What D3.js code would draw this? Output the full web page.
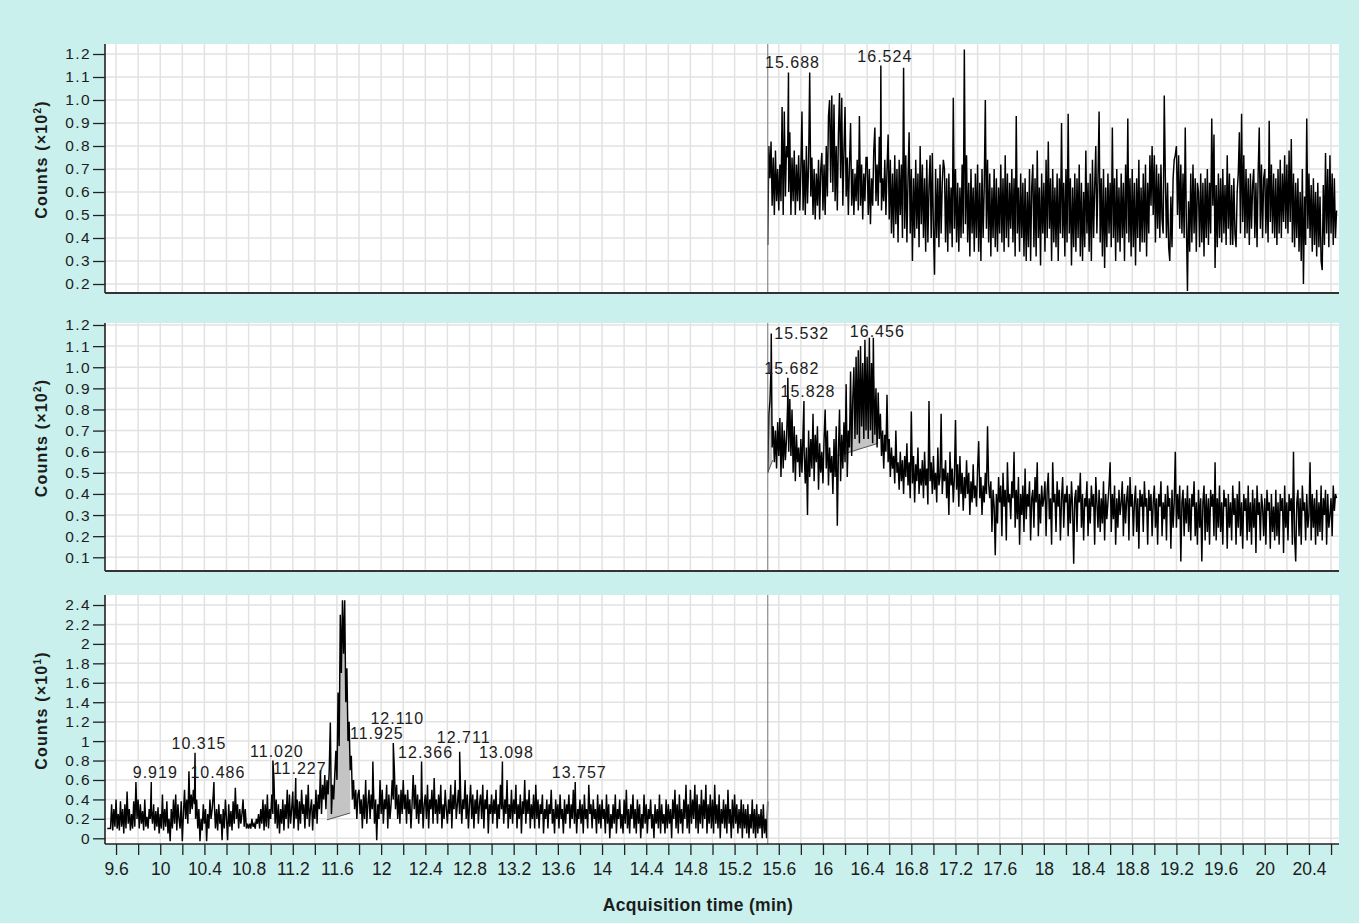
<!DOCTYPE html>
<html>
<head>
<meta charset="utf-8">
<script src="https://cdn.jsdelivr.net/npm/d3@7"></script>
<style>
  html, body { margin: 0; padding: 0; background: #c9f0ec; }
  svg { display: block; }
  text { font-family: "Liberation Sans", Arial, Helvetica, sans-serif; fill: #1c1c1c; }
  .ytick text { font-size: 15.5px; letter-spacing: 1.4px; }
  .xtick text { font-size: 17.5px; }
  .peak { font-size: 16px; letter-spacing: 1px; }
  .ytitle { font-size: 16px; font-weight: bold; letter-spacing: 1.2px; }
  .xtitle { font-size: 17.5px; font-weight: bold; letter-spacing: 0.3px; }
</style>
</head>
<body>
<svg id="chart" width="1359" height="923"></svg>
<script>
// ---- acquisition grid ----
const sampleStep = 0.01;          // min between scans

// ---- trace 1 (Counts ×10²), values in counts, scans from 15.50 min ----
const trace1Start = 15.50;
const trace1 = [
  37, 80, 66, 82, 54, 75, 50, 78, 56, 70,
  52, 72, 56, 97, 50, 95, 58, 80, 75, 60,
  86, 50, 75, 56, 78, 50, 72, 56, 76, 52,
  70, 95, 52, 74, 50, 80, 55, 72, 112, 58,
  75, 50, 70, 48, 68, 54, 74, 48, 70, 77,
  52, 72, 50, 80, 58, 93, 100, 64, 102, 60,
  98, 56, 80, 52, 85, 103, 66, 101, 54, 78,
  97, 58, 75, 50, 72, 90, 54, 70, 50, 68,
  56, 74, 52, 93, 54, 72, 48, 68, 56, 75,
  75, 50, 70, 46, 66, 54, 78, 88, 56, 72,
  54, 84, 64, 52, 66, 56, 74, 50, 70, 85,
  48, 74, 42, 68, 40, 76, 46, 70, 38, 74,
  50, 72, 40, 114, 44, 76, 38, 66, 86, 42,
  70, 30, 66, 40, 74, 44, 68, 36, 80, 46,
  72, 40, 66, 34, 74, 38, 62, 76, 40, 77,
  44, 24, 70, 40, 66, 36, 72, 42, 64, 74,
  70, 38, 66, 34, 68, 42, 62, 36, 101, 44,
  70, 38, 64, 34, 62, 40, 72, 42, 122, 46,
  76, 38, 64, 32, 70, 42, 62, 34, 68, 40,
  72, 34, 64, 30, 70, 40, 62, 100, 44, 74,
  38, 68, 32, 62, 40, 70, 36, 66, 34, 62,
  42, 72, 38, 66, 34, 76, 40, 68, 36, 64,
  44, 70, 38, 66, 32, 93, 42, 62, 34, 68,
  40, 64, 32, 66, 30, 60, 36, 70, 30, 62,
  72, 36, 66, 32, 78, 40, 62, 28, 68, 42,
  64, 34, 74, 40, 82, 44, 66, 30, 70, 38,
  62, 36, 68, 30, 66, 42, 90, 40, 64, 32,
  70, 38, 94, 42, 66, 28, 62, 36, 68, 34,
  66, 40, 72, 32, 64, 30, 60, 36, 78, 42,
  64, 34, 68, 30, 74, 40, 62, 80, 42, 66,
  95, 38, 66, 32, 70, 27, 62, 36, 68, 42,
  64, 36, 88, 40, 66, 30, 70, 38, 62, 34,
  68, 40, 64, 30, 72, 42, 92, 38, 66, 32,
  70, 36, 64, 28, 66, 40, 74, 34, 62, 38,
  68, 38, 72, 32, 64, 42, 76, 54, 80, 50,
  76, 38, 72, 44, 68, 40, 72, 48, 42, 102,
  66, 40, 64, 36, 30, 58, 36, 66, 74, 76,
  80, 50, 76, 44, 72, 42, 68, 40, 88, 47,
  17, 56, 34, 68, 38, 72, 42, 66, 34, 64,
  60, 36, 68, 38, 64, 32, 66, 40, 70, 37,
  64, 42, 92, 54, 85, 27, 63, 36, 68, 40,
  66, 38, 70, 42, 63, 37, 76, 44, 68, 37,
  63, 37, 66, 42, 36, 60, 68, 86, 42, 94,
  47, 76, 40, 70, 42, 66, 37, 68, 44, 63,
  70, 40, 64, 36, 68, 88, 44, 72, 40, 66,
  70, 42, 66, 38, 91, 47, 72, 42, 68, 40,
  66, 37, 70, 42, 74, 40, 68, 47, 76, 44,
  72, 42, 78, 47, 83, 38, 68, 36, 64, 40,
  66, 34, 60, 30, 70, 20, 58, 37, 92, 44,
  68, 40, 63, 34, 66, 37, 60, 32, 64, 36,
  58, 30, 26, 63, 37, 77, 42, 70, 36, 76,
  42, 68, 37, 66, 40, 52
];
const peaks1 = [[15.688, 112], [16.524, 115]];

// ---- trace 2 (Counts ×10²), values in counts, scans from 15.50 min ----
const trace2Start = 15.50;
const trace2 = [
  50, 78, 84, 100, 62, 72, 55, 70, 52, 74,
  58, 76, 48, 74, 52, 70, 56, 66, 82, 60,
  85, 58, 80, 50, 72, 46, 68, 55, 62, 48,
  66, 50, 70, 60, 45, 62, 30, 70, 48, 66,
  52, 78, 46, 68, 55, 72, 42, 64, 50, 60,
  45, 66, 80, 52, 70, 44, 62, 50, 58, 40,
  66, 48, 72, 25, 60, 80, 46, 68, 52, 74,
  55, 92, 48, 70, 62, 98, 58, 85, 100, 66,
  105, 68, 108, 64, 110, 72, 102, 66, 113, 70,
  105, 66, 114, 70, 102, 64, 96, 68, 90, 62,
  88, 66, 78, 58, 70, 52, 68, 60, 87, 55,
  66, 48, 62, 52, 58, 45, 70, 50, 55, 42,
  60, 46, 56, 40, 58, 48, 64, 44, 55, 38,
  79, 45, 58, 36, 54, 46, 62, 40, 52, 44,
  56, 38, 60, 44, 52, 35, 84, 46, 55, 40,
  58, 42, 50, 36, 62, 44, 48, 78, 40, 52,
  46, 56, 38, 50, 30, 60, 44, 52, 36, 48,
  75, 42, 54, 34, 58, 40, 50, 32, 48, 38,
  56, 40, 50, 30, 46, 36, 54, 38, 44, 34,
  52, 65, 38, 48, 30, 44, 36, 50, 40, 72,
  45, 38, 46, 22, 42, 34, 11, 40, 26, 48,
  36, 44, 20, 50, 34, 42, 18, 55, 36, 40,
  28, 46, 38, 60, 24, 42, 28, 48, 16, 40,
  30, 44, 22, 52, 28, 40, 34, 46, 18, 38,
  42, 24, 48, 36, 55, 20, 40, 26, 44, 34,
  38, 46, 20, 42, 50, 28, 38, 16, 55, 36,
  40, 22, 46, 34, 42, 18, 38, 48, 24, 40,
  36, 44, 20, 40, 26, 46, 34, 7, 38, 42,
  22, 44, 36, 50, 24, 40, 18, 38, 34, 46,
  20, 38, 26, 44, 34, 40, 16, 48, 36, 24,
  42, 22, 38, 26, 46, 18, 40, 28, 36, 44,
  55, 22, 40, 28, 44, 16, 38, 24, 42, 30,
  36, 46, 20, 40, 26, 38, 44, 18, 48, 34,
  40, 20, 36, 44, 22, 38, 14, 42, 34, 40,
  22, 46, 34, 38, 16, 42, 32, 40, 20, 36,
  44, 24, 38, 16, 40, 34, 46, 20, 36, 28,
  40, 18, 44, 34, 38, 14, 42, 24, 36, 60,
  24, 40, 28, 44, 8, 36, 42, 20, 38, 26,
  44, 22, 38, 18, 40, 34, 46, 20, 36, 16,
  42, 24, 38, 8, 36, 44, 18, 40, 22, 38,
  16, 42, 34, 40, 20, 55, 18, 38, 24, 44,
  22, 36, 16, 42, 34, 38, 14, 40, 24, 36,
  18, 44, 30, 38, 16, 40, 24, 46, 20, 36,
  14, 40, 32, 38, 18, 44, 22, 36, 16, 42,
  24, 38, 12, 44, 30, 36, 18, 40, 34, 20,
  38, 16, 42, 32, 36, 14, 40, 22, 34, 18,
  42, 20, 36, 16, 40, 32, 38, 12, 44, 24,
  36, 18, 40, 32, 38, 16, 60, 20, 8, 36,
  42, 20, 38, 16, 44, 32, 36, 18, 40, 24,
  30, 55, 18, 40, 24, 38, 16, 42, 20, 36,
  22, 44, 18, 38, 30, 42, 16, 40, 24, 30,
  38, 20, 44, 32, 40, 38
];
const peaks2 = [[15.532, 116], [15.682, 95], [15.828, 84], [16.456, 114]];
// integrated areas: [start min, start baseline, end min, end baseline]
const areas2 = [[15.50, 50, 15.545, 56], [16.13, 58, 16.50, 64]];

// ---- trace 3 (Counts ×10¹), values in tenths of a count, scans from 9.52 min ----
const trace3Start = 9.52;
const trace3 = [
  10, 10, 10, 10, 35, 8, 30, 12,
  40, 10, 25, 8, 38, 12, 30, 5, 35, 10,
  48, 15, 30, 8, 25, 10, 38, 12, 58, 20,
  40, 10, 35, 15, 28, 8, 40, 12, 22, 10,
  30, 20, 30, 15, 35, 8, 28, 12, 32, 5,
  25, 10, 45, 8, 30, 12, 38, 5, 20, -3,
  30, 10, 40, 15, 45, 8, 35, 20, 10, 38,
  -3, 25, 50, 20, 40, 15, 69, 25, 45, 30,
  50, 35, 20, 40, 10, 30, -3, 20, 8, 35,
  15, 30, -3, 25, 10, 40, 20, 30, 45, 35,
  10, 30, 8, 35, 15, 25, -2, 30, 10, 40,
  20, -2, 35, 12, 28, 8, 38, 15, 52, 20,
  35, 10, 30, 15, 25, 40, 12, 30, 10, 15,
  10, 15, 10, 20, 12, 15, 10, 20, 15, 25,
  10, 30, 15, 40, 8, 35, 12, 45, 10, 30,
  20, 45, 25, 60, 15, 40, 10, 35, 5, 30,
  15, 40, 8, 35, 20, 50, 10, 45, 15, 30,
  48, 10, 35, 20, 40, 8, 38, 15, 50, 25,
  35, 10, 45, 20, 55, 12, 30, 40, 8, 35,
  20, 50, 15, 45, 30, 70, 25, 55, 40, 65,
  30, 60, 45, 70, 119, 25, 55, 40, 65, 90,
  60, 150, 95, 230, 170, 245, 190, 245, 140, 175,
  100, 120, 70, 85, 40, 60, 30, 50, 20, 45,
  50, 25, 40, 10, 45, 20, 60, 15, 35, 50,
  20, 45, 30, 55, 15, 40, -2, 35, 20, 60,
  25, 50, 15, 40, 30, 55, 10, 45, 20, 35,
  60, 40, 70, 30, 55, 20, 45, 15, 50, 25,
  60, 30, 45, 15, 50, 25, 40, 10, 35, 65,
  30, 55, 20, 45, 15, 40, 25, 50, 10, 35,
  45, 20, 55, 10, 40, 30, 50, 15, 62, 25,
  40, 15, 45, 25, 55, 10, 35, 20, 50, 30,
  15, 40, 25, 55, 10, 45, 30, 60, 20, 35,
  50, 25, 45, 15, 40, 30, 60, 20, 45, 10,
  35, 55, 20, 45, 10, 40, 25, 50, 15, 35,
  45, 20, 55, 10, 40, 30, 50, 5, 35, 25,
  45, 15, 40, 25, 50, 10, 35, 20, 55, 30,
  45, 15, 40, 25, 60, 10, 35, 20, 50, 15,
  40, 25, 55, 10, 35, 20, 45, 5, 38, 25,
  60, 15, 40, 25, 50, 10, 35, 20, 45, 10,
  55, 20, 40, 10, 35, 25, 45, 5, 30, 20,
  40, 10, 35, 25, 50, 15, 30, 5, 40, 20,
  35, 10, 45, 20, 30, 5, 40, 15, 35, 25,
  45, 10, 35, 20, 50, 15, 40, 5, 30, 20,
  40, 15, 35, 5, 45, 20, 30, 10, 55, 25,
  35, 10, 40, 20, 30, 5, 45, 15, 35, 10,
  40, 20, 30, 5, 45, 15, 35, 0, 25, 10,
  35, 15, 45, 5, 30, 20, 40, 10, 25, 5,
  40, 15, 50, 10, 30, 5, 35, 20, 45, 10,
  30, 5, 40, 15, 35, 0, 25, 10, 45, 15,
  35, 5, 30, 20, 40, 10, 25, 0, 35, 15,
  30, 10, 45, 5, 35, 15, 25, 5, 40, 10,
  35, 15, 30, 0, 40, 20, 50, 10, 35, 5,
  45, 15, 30, 5, 40, 20, 55, 10, 35, 5,
  50, 15, 40, 20, 55, 10, 45, 5, 35, 15,
  50, 10, 40, 20, 55, 5, 35, 15, 45, 10,
  40, 5, 55, 15, 35, 10, 45, 0, 30, 15,
  40, 10, 35, 5, 50, 15, 30, 0, 40, 10,
  45, 15, 35, 5, 30, 10, 40, 0, 35, 10,
  30, 5, 35, 0, 25, 10, 40, 5, 30, 0,
  35, 5, 25, 10, 30, 0, 35, 5, 20, 0,
  38
];
const peaks3 = [[9.919, 58], [10.315, 88], [10.486, 58], [11.020, 80], [11.227, 62],
                [11.925, 79], [12.110, 98], [12.366, 79], [12.711, 89], [13.098, 79], [13.757, 58]];
const areas3 = [[11.51, 19, 11.72, 26]];

// ---- axes ----
const xTickLabels = [9.6, 10, 10.4, 10.8, 11.2, 11.6, 12, 12.4, 12.8, 13.2, 13.6, 14, 14.4, 14.8,
                     15.2, 15.6, 16, 16.4, 16.8, 17.2, 17.6, 18, 18.4, 18.8, 19.2, 19.6, 20, 20.4];
const xGridStep = 0.2;
const yTicks1 = [0.2, 0.3, 0.4, 0.5, 0.6, 0.7, 0.8, 0.9, 1.0, 1.1, 1.2];
const yTicks2 = [0.1, 0.2, 0.3, 0.4, 0.5, 0.6, 0.7, 0.8, 0.9, 1.0, 1.1, 1.2];
const yTicks3 = [0, 0.2, 0.4, 0.6, 0.8, 1, 1.2, 1.4, 1.6, 1.8, 2, 2.2, 2.4];
const markerTime = 15.5;

// ---- layout ----
const svg = d3.select('#chart');
const x = d3.scaleLinear().domain([9.5, 20.672]).range([105, 1339]);
const xGrid = d3.range(9.6, 20.61, xGridStep);

const panels = [
  { trace: trace1, start: trace1Start, peaks: peaks1, areas: [], ticks: yTicks1,
    fmt: d3.format('.1f'), top: 44, bottom: 293, domain: [0.1609, 1.2435], exp: '2', xAxis: false },
  { trace: trace2, start: trace2Start, peaks: peaks2, areas: areas2, ticks: yTicks2,
    fmt: d3.format('.1f'), top: 323, bottom: 571, domain: [0.0351, 1.2095], exp: '2', xAxis: false },
  { trace: trace3, start: trace3Start, peaks: peaks3, areas: areas3, ticks: yTicks3,
    fmt: d => String(+d.toFixed(1)), top: 595, bottom: 844, domain: [-0.0586, 2.503], exp: '1', xAxis: true }
];

panels.forEach((p, pi) => {
  const y = d3.scaleLinear().domain(p.domain).range([p.bottom, p.top]);
  const g = svg.append('g');
  const clipId = 'clip' + pi;
  svg.append('clipPath').attr('id', clipId).append('rect')
    .attr('x', x.range()[0]).attr('y', p.top)
    .attr('width', x.range()[1] - x.range()[0]).attr('height', p.bottom - p.top);

  // plot background
  g.append('rect').attr('x', x.range()[0]).attr('y', p.top)
    .attr('width', x.range()[1] - x.range()[0]).attr('height', p.bottom - p.top)
    .attr('fill', '#ffffff');

  // grid
  g.append('g').selectAll('line').data(xGrid).join('line')
    .attr('x1', d => x(d)).attr('x2', d => x(d)).attr('y1', p.top).attr('y2', p.bottom)
    .attr('stroke', '#e2e2e2').attr('stroke-width', 1.5);
  g.append('g').selectAll('line').data(p.ticks).join('line')
    .attr('x1', x.range()[0]).attr('x2', x.range()[1]).attr('y1', d => y(d)).attr('y2', d => y(d))
    .attr('stroke', '#e2e2e2').attr('stroke-width', 1.5);

  // scans plus labelled apex points, in time order
  const pts = p.trace.map((v, i) => ({ t: p.start + i * sampleStep, v: v / 100 }))
    .concat(p.peaks.map(([t, v]) => ({ t, v: v / 100 })))
    .sort((a, b) => a.t - b.t);

  const plot = g.append('g').attr('clip-path', `url(#${clipId})`);

  // integrated peak areas
  p.areas.forEach(([t0, b0, t1, b1]) => {
    const base = t => (b0 + (b1 - b0) * (t - t0) / (t1 - t0)) / 100;
    const seg = pts.filter(d => d.t >= t0 && d.t <= t1);
    plot.append('path')
      .attr('d', d3.area().x(d => x(d.t)).y0(d => y(base(d.t))).y1(d => y(Math.max(d.v, base(d.t))))(seg))
      .attr('fill', '#c4c4c4');
    plot.append('line').attr('x1', x(t0)).attr('x2', x(t1)).attr('y1', y(b0 / 100)).attr('y2', y(b1 / 100))
      .attr('stroke', '#555').attr('stroke-width', 1);
  });

  // trace
  plot.append('path').datum(pts)
    .attr('d', d3.line().x(d => x(d.t)).y(d => y(d.v)))
    .attr('fill', 'none').attr('stroke', '#000').attr('stroke-width', 1.45);

  // time marker
  g.append('line').attr('x1', x(markerTime)).attr('x2', x(markerTime))
    .attr('y1', p.top).attr('y2', p.bottom).attr('stroke', '#8a8a8a').attr('stroke-width', 1.2);

  // y axis
  const ya = g.append('g').attr('class', 'ytick').attr('transform', `translate(${x.range()[0]},0)`)
    .call(d3.axisLeft(y).tickValues(p.ticks).tickFormat(p.fmt).tickSize(12).tickSizeOuter(0).tickPadding(2));
  ya.select('.domain').attr('stroke', '#222').attr('stroke-width', 1.6)
    .attr('d', `M0,${p.top}V${p.bottom}`);
  ya.selectAll('.tick line').attr('stroke', '#222').attr('stroke-width', 1.3);
  ya.selectAll('.tick text').attr('fill', '#1c1c1c');

  // bottom edge / x axis
  if (p.xAxis) {
    const xa = g.append('g').attr('class', 'xtick').attr('transform', `translate(0,${p.bottom})`)
      .call(d3.axisBottom(x).tickValues(xGrid).tickSize(11).tickSizeOuter(0).tickPadding(8)
        .tickFormat(d => {
          const hit = xTickLabels.find(l => Math.abs(l - d) < 1e-6);
          return hit === undefined ? '' : String(hit);
        }));
    xa.select('.domain').attr('stroke', '#222').attr('stroke-width', 1.6)
      .attr('d', `M${x.range()[0]},0H${x.range()[1]}`);
    xa.selectAll('.tick line').attr('stroke', '#222').attr('stroke-width', 1.3);
    xa.selectAll('.tick text').attr('fill', '#1c1c1c');
  } else {
    g.append('line').attr('x1', x.range()[0]).attr('x2', x.range()[1])
      .attr('y1', p.bottom).attr('y2', p.bottom).attr('stroke', '#333').attr('stroke-width', 1.8);
  }

  // y title
  const cy = (p.top + p.bottom) / 2 - 9;
  const tt = g.append('text').attr('class', 'ytitle')
    .attr('transform', `translate(47,${cy}) rotate(-90)`).attr('text-anchor', 'middle');
  tt.append('tspan').text('Counts (×10');
  tt.append('tspan').attr('dy', -6).style('font-size', '10px').text(p.exp);
  tt.append('tspan').attr('dy', 6).text(')');

  // peak labels: sit just above the highest scan under the label's middle,
  // stepping up over any label already placed
  const placed = [];
  const capH = 12, reach = 17;
  p.peaks.forEach(([t, v]) => {
    const lab = g.append('text').attr('class', 'peak').text(t.toFixed(3));
    const w = lab.node().getComputedTextLength();
    const cx = x(t) + 4;
    let left = cx - w / 2;
    const near = pts.filter(d => Math.abs(x(d.t) - cx) <= reach);
    const hi = d3.max(near, d => d.v);
    let base = y(Math.max(hi, v / 100)) - 4;
    if (base - capH < p.top - 4) { left = x(t) + 3; base = p.top + 4 + capH; }
    else if (base - capH < p.top + 2) { base = p.top + 2 + capH; }
    let moved = true;
    while (moved) {
      moved = false;
      for (const q of placed) {
        if (left < q.right && left + w > q.left && base > q.top - 2 && base - capH < q.bottom + 2) {
          base = q.top - 3; moved = true;
        }
      }
    }
    lab.attr('x', left).attr('y', base);
    placed.push({ left, right: left + w, top: base - capH, bottom: base });
  });
});

// x title
svg.append('text').attr('class', 'xtitle').attr('x', 698).attr('y', 911)
  .attr('text-anchor', 'middle').text('Acquisition time (min)');
</script>
</body>
</html>
